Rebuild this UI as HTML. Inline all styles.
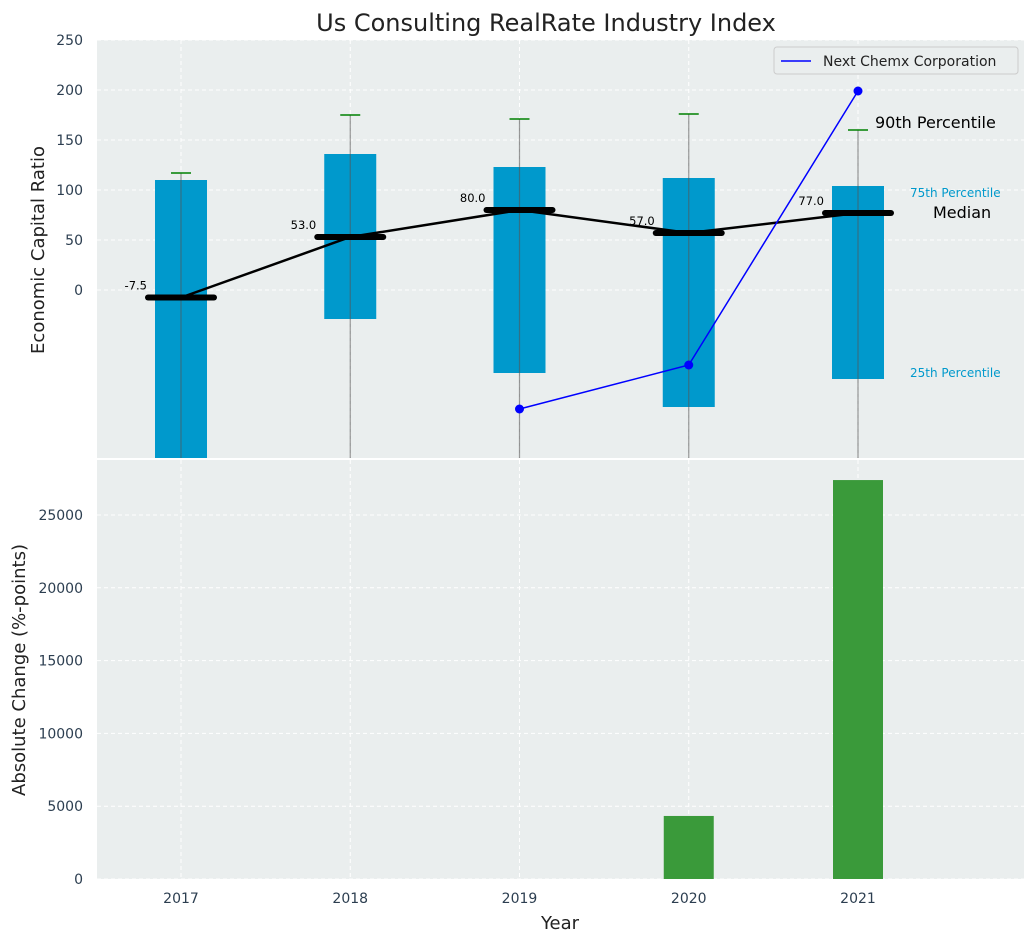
<!DOCTYPE html>
<html><head><meta charset="utf-8"><style>
body{margin:0;background:#fff;font-family:"Liberation Sans","DejaVu Sans",sans-serif}
</style></head><body>
<svg id="chart" width="1035" height="942" xmlns="http://www.w3.org/2000/svg" font-family="DejaVu Sans, Liberation Sans, sans-serif"></svg>
<script>
const years=[2017,2018,2019,2020,2021];
const q75=[110,136,123,112,104];
const q25=[-200,-29,-83,-117,-89];
const p90=[117,175,171,176,160];
const medians=[-7.5,53,80,57,77];
const companyYears=[2019,2020,2021];
const companyValues=[-119,-75,199];
const changeYears=[2020,2021];
const changeValues=[4330,27400];
const yTicks1=[0,50,100,150,200,250];
const yTicks2=[0,5000,10000,15000,20000,25000];

const svg=document.getElementById('chart');
const NS='http://www.w3.org/2000/svg';
function mk(tag,attrs,parent,text){const e=document.createElementNS(NS,tag);for(const k in attrs)e.setAttribute(k,attrs[k]);if(text!==undefined)e.textContent=text;(parent||svg).appendChild(e);return e;}
const L=97,R=1024,T1=40,B1=458,T2=460,B2=879;
const x=v=>181+(v-2017)*169.25;
const y1=v=>290-v;
const y2=v=>B2-v/5000*72.8;

let e;
e=mk('rect',{x:L,y:T1,width:R-L,height:B1-T1,fill:'#eaeeee'});

e=mk('rect',{x:L,y:T2,width:R-L,height:B2-T2,fill:'#eaeeee'});


years.forEach(v=>{
 mk('line',{x1:x(v),x2:x(v),y1:T1,y2:B1,stroke:'#fff','stroke-dasharray':'4,3','stroke-width':1});
 mk('line',{x1:x(v),x2:x(v),y1:T2,y2:B2,stroke:'#fff','stroke-dasharray':'4,3','stroke-width':1});
 e=mk('text',{x:x(v),y:903,'text-anchor':'middle','font-size':14,fill:'#2c3e50'},null,v);
 
});
yTicks1.forEach(v=>{
 mk('line',{x1:L,x2:R,y1:y1(v),y2:y1(v),stroke:'#fff','stroke-dasharray':'4,3'});
 e=mk('text',{x:83,y:y1(v)+5,'text-anchor':'end','font-size':14,fill:'#2c3e50'},null,v);
 
});
yTicks2.forEach(v=>{
 mk('line',{x1:L,x2:R,y1:y2(v),y2:y2(v),stroke:'#fff','stroke-dasharray':'4,3'});
 e=mk('text',{x:83,y:y2(v)+5,'text-anchor':'end','font-size':14,fill:'#2c3e50'},null,v);
 
});

const clip=mk('clipPath',{id:'c1'});mk('rect',{x:L,y:T1,width:R-L,height:B1-T1},clip);
const g=mk('g',{'clip-path':'url(#c1)'});
years.forEach((v,i)=>{
 e=mk('rect',{x:x(v)-26,y:y1(q75[i]),width:52,height:y1(q25[i])-y1(q75[i]),fill:'#0099cc'},g);
 
 e=mk('line',{x1:x(v),x2:x(v),y1:y1(p90[i]),y2:B1+10,stroke:'#555','stroke-opacity':0.6,'stroke-width':1.2},g);
 
 e=mk('line',{x1:x(v)-10,x2:x(v)+10,y1:y1(p90[i]),y2:y1(p90[i]),stroke:'green','stroke-width':1.5},g);
 
});
e=mk('polyline',{points:years.map((v,i)=>x(v)+','+y1(medians[i])).join(' '),fill:'none',stroke:'#000','stroke-width':2.5},g);

years.forEach((v,i)=>{
 e=mk('line',{x1:x(v)-33,x2:x(v)+33,y1:y1(medians[i]),y2:y1(medians[i]),stroke:'#000','stroke-width':6,'stroke-linecap':'round'},g);
 
 e=mk('text',{x:x(v)-34,y:y1(medians[i])-8,'text-anchor':'end','font-size':11.5,fill:'#000'},null,medians[i].toFixed(1));
 
});
e=mk('polyline',{points:companyYears.map((v,i)=>x(v)+','+y1(companyValues[i])).join(' '),fill:'none',stroke:'blue','stroke-width':1.5},g);

companyYears.forEach((v,i)=>{
 e=mk('circle',{cx:x(v),cy:y1(companyValues[i]),r:4.5,fill:'blue'},g);
 
});
changeYears.forEach((v,i)=>{
 e=mk('rect',{x:x(v)-25,y:y2(changeValues[i]),width:50,height:B2-y2(changeValues[i]),fill:'#3a9a3a'});
 
});

[['90th Percentile',875,128,16,'#000','anno-90th'],['Median',933,218,16,'#000','anno-median'],['75th Percentile',910,197,12,'#0099cc','anno-75th'],['25th Percentile',910,377,12,'#0099cc','anno-25th']].forEach(a=>{
 e=mk('text',{x:a[1],y:a[2],'font-size':a[3],fill:a[4]},null,a[0]);
 
});
e=mk('g',{});
mk('rect',{x:774,y:47,width:244,height:27,rx:3,fill:'#eaeeee',stroke:'#ccc'},e);
mk('line',{x1:781,x2:811,y1:61,y2:61,stroke:'blue','stroke-width':1.5},e);
mk('text',{x:823,y:66,'font-size':14,fill:'#222'},e,'Next Chemx Corporation');

e=mk('text',{x:546,y:31,'text-anchor':'middle','font-size':24,fill:'#222'},null,'Us Consulting RealRate Industry Index');

e=mk('text',{x:560,y:929,'text-anchor':'middle','font-size':18,fill:'#222'},null,'Year');

e=mk('text',{x:0,y:0,'text-anchor':'middle','font-size':18,fill:'#222',transform:'translate(44,250) rotate(-90)'},null,'Economic Capital Ratio');

e=mk('text',{x:0,y:0,'text-anchor':'middle','font-size':18,fill:'#222',transform:'translate(25,670) rotate(-90)'},null,'Absolute Change (%-points)');

</script>
</body></html>
